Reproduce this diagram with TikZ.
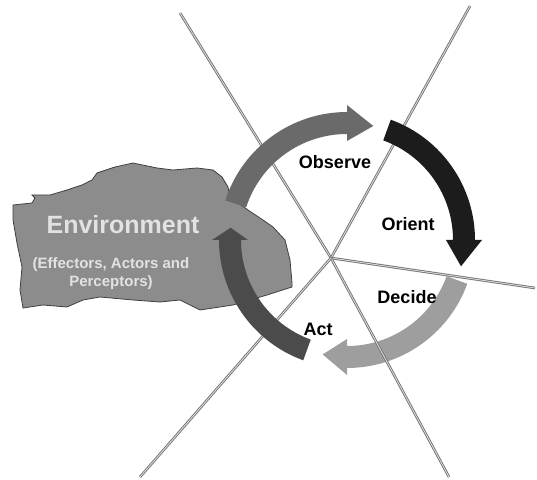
\documentclass[tikz,border=0pt]{standalone}
\usepackage{fontspec}
\setmainfont{Liberation Sans}

\definecolor{observegray}{HTML}{6A6A6A}
\definecolor{orientgray}{HTML}{1C1C1C}
\definecolor{decidegray}{HTML}{9E9E9E}
\definecolor{actgray}{HTML}{4B4B4B}
\definecolor{envgray}{HTML}{8C8C8C}
\definecolor{envtext}{HTML}{E2E2E2}

% one curved arrow of the loop: start angle, end of body, tip angle, colour
\newcommand{\loopArrow}[4]{%
  \fill[#4] (#1:128pt) arc[start angle=#1, end angle=#2, radius=128pt]
    -- (#2:135pt) -- (#3:117pt) -- (#2:99pt) -- (#2:106pt)
    arc[start angle=#2, end angle=#1, radius=106pt] -- cycle;}

\begin{document}
\begin{tikzpicture}[x=1pt,y=1pt]
    \tikzstyle{every node}+=[inner sep=0pt, font=\bfseries]
    \tikzstyle{ray}=[draw=black!55, line width=0.9pt, double=white!75!gray, double distance=0.8pt]
    \tikzstyle{phase}=[font=\fontsize{18}{20}\selectfont\bfseries]
    \useasboundingbox (0,0) rectangle (537,479);

    % rays from the hub
    \coordinate (hub) at (331,221);
    \coordinate (rayNW) at (180,466);
    \coordinate (rayNE) at (470,473);
    \coordinate (rayE) at (535,191);
    \coordinate (raySE) at (449,2);
    \coordinate (raySW) at (140,2);

    \begin{scope}[shift={(347,239)}]
        \loopArrow{-20}{-90}{-102}{decidegray}
    \end{scope}
    \foreach \r in {rayNW,rayNE,rayE,raySE,raySW}
        \draw [ray] (hub) -- (\r);

    % environment blob
    \filldraw [fill=envgray, draw=black!75, line width=0.8pt]
        (13,274) -- (32,276) -- (35,281) -- (32,284) -- (50,284) -- (67,289)
        -- (82,294) -- (92,299) -- (97,306) -- (115,312) -- (133,316)
        -- (157,311) -- (173,309) -- (197,311) -- (213,309) -- (222,302)
        -- (228,292) -- (230,282) -- (248,269) -- (263,259) -- (273,252)
        -- (285,239) -- (290,219) -- (292,196) -- (292,192) -- (267,184)
        -- (233,174) -- (200,169) -- (180,179) -- (160,177) -- (133,179)
        -- (100,182) -- (83,179) -- (67,172) -- (43,174) -- (23,171)
        -- (20,189) -- (22,212) -- (17,236) -- (13,259) -- cycle;

    \begin{scope}[shift={(347,239)}]
        \loopArrow{250}{180}{174}{actgray}
        \loopArrow{162}{90}{77}{observegray}
        \loopArrow{70}{0}{-13}{orientgray}
    \end{scope}

    \node (envtitle) [text=envtext, font=\fontsize{25}{28}\selectfont\bfseries] at (123,254) {Environment};
    \node (envnote) [text=envtext, align=center, font=\fontsize{15}{18}\selectfont\bfseries] at (111,205) {(Effectors, Actors and\\Perceptors)};

    \node (observe) [phase] at (335,317) {Observe};
    \node (orient) [phase] at (408,255) {Orient};
    \node (decide) [phase] at (407,182) {Decide};
    \node (act) [phase] at (318,150) {Act};
\end{tikzpicture}
\end{document}
